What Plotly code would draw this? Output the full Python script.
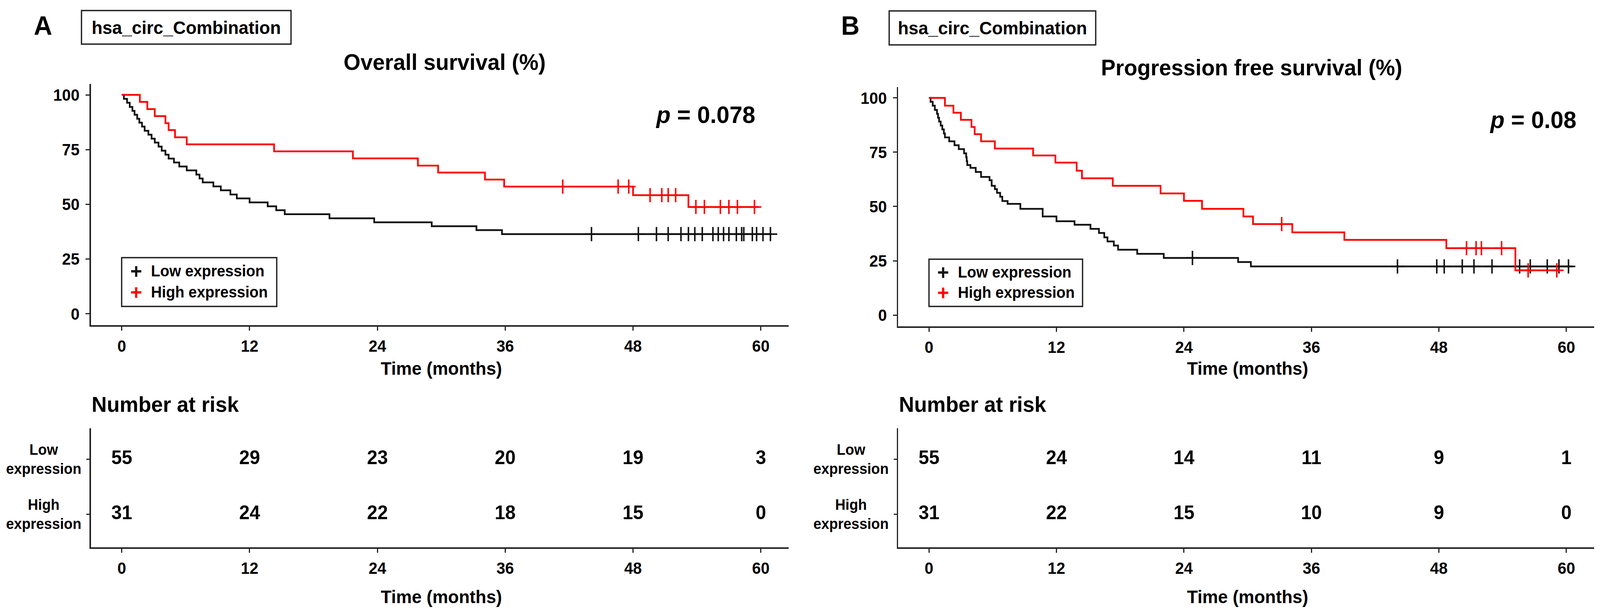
import plotly.graph_objects as go

W, H = 4261, 1578
FONT = "Liberation Sans, Arial, Helvetica, sans-serif"
RED = "#ff0000"
BLACK = "#111111"
AX = "#222222"

# ---------------- data ----------------
group_names = ["Low expression", "High expression"]
risk_times = [0, 12, 24, 36, 48, 60]
x_ticks = [0, 12, 24, 36, 48, 60]
y_ticks = [0, 25, 50, 75, 100]

# Panel A : overall survival
os_low_t = [0, 0.2, 0.5, 0.75, 1.0, 1.2, 1.45, 1.65, 1.9, 2.15, 2.5, 2.8, 3.1, 3.45, 3.75, 4.1,
            4.4, 4.9, 5.4, 6.1, 7.0, 7.3, 7.6, 8.6, 9.3, 10.2, 10.8, 12.0, 13.7, 14.5, 15.3,
            19.5, 23.7, 29.1, 33.3, 35.7]
os_low_s = [100, 98.2, 96.4, 94.5, 92.7, 90.9, 89.1, 87.3, 85.5, 83.6, 81.8, 80.0, 78.2, 76.4,
            74.5, 72.7, 70.9, 69.1, 67.3, 65.5, 63.6, 61.8, 60.0, 58.2, 56.4, 54.5, 52.7, 50.9,
            49.1, 47.3, 45.5, 43.6, 41.8, 40.0, 38.2, 36.4]
os_low_end = 61.0
os_low_cens = [44.1, 48.5, 50.2, 51.3, 52.5, 53.2, 53.8, 54.5, 55.5, 56.0, 56.5, 57.0, 57.7,
               58.2, 58.4, 59.2, 59.6, 60.2, 60.9]

os_high_t = [0, 1.7, 2.4, 3.1, 4.1, 4.4, 5.0, 6.1, 14.3, 21.7, 27.8, 29.7, 34.1, 35.9, 48.0, 53.2]
os_high_s = [100, 96.8, 93.5, 90.3, 87.1, 83.9, 80.6, 77.4, 74.2, 71.0, 67.7, 64.5, 61.3, 58.1,
             54.2, 48.8]
os_high_end = 59.8
os_high_cens = [41.4, 46.6, 47.6, 49.6, 50.7, 51.3, 52.0, 53.9, 54.7, 56.2, 57.0, 57.8, 59.4]

os_risk_low = [55, 29, 23, 20, 19, 3]
os_risk_high = [31, 24, 22, 18, 15, 0]
os_p = "0.078"

# Panel B : progression free survival
pfs_low_t = [0, 0.15, 0.35, 0.55, 0.75, 0.85, 0.95, 1.1, 1.25, 1.4, 1.5, 1.9, 2.4, 2.8, 3.3, 3.5,
             3.55, 3.6, 3.9, 4.4, 4.9, 5.7, 5.9, 6.2, 6.4, 6.7, 6.9, 7.4, 8.6, 10.7, 12.0, 13.7,
             15.2, 16.0, 16.5, 16.8, 17.4, 17.8, 19.6, 22.1, 29.1, 30.3]
pfs_low_s = [100, 98.2, 96.4, 94.5, 92.7, 90.9, 89.1, 87.3, 85.5, 83.6, 81.8, 80.0, 78.2, 76.4,
             74.5, 72.7, 70.9, 69.1, 67.8, 65.9, 63.6, 62.1, 59.5, 58.0, 56.3, 54.5, 52.5, 51.2,
             48.9, 45.4, 43.2, 41.6, 39.7, 37.8, 35.8, 33.9, 32.0, 30.1, 28.2, 26.3, 24.4, 22.4]
pfs_low_end = 60.6
pfs_low_cens = [24.8, 44.1, 47.8, 48.5, 50.2, 51.3, 53.0, 55.6, 56.6, 58.2, 59.3, 60.2]

pfs_high_t = [0, 1.5, 2.3, 3.0, 4.0, 4.3, 4.9, 6.2, 9.8, 11.9, 13.9, 14.4, 17.3, 21.8, 24.0,
              25.7, 29.6, 30.5, 34.2, 39.1, 48.7, 55.2]
pfs_high_s = [100, 96.4, 93.2, 89.9, 86.6, 83.3, 80.0, 76.7, 73.5, 70.2, 66.5, 63.0, 59.5, 56.0,
              52.6, 48.9, 45.4, 41.9, 38.1, 34.6, 30.8, 20.6]
pfs_high_end = 59.3
pfs_high_cens = [33.2, 50.6, 51.5, 52.0, 53.9, 56.4, 59.1]

pfs_risk_low = [55, 24, 14, 11, 9, 1]
pfs_risk_high = [31, 22, 15, 10, 9, 0]
pfs_p = "0.08"

# ---------------- helpers ----------------
def step_value(ts, ss, t):
    v = ss[0]
    for ti, si in zip(ts, ss):
        if ti <= t:
            v = si
    return v


def px(x):
    return x / W


def py(y):
    return 1 - y / H


fig = go.Figure()

panels = [
    dict(xa="x", ya="y", xr="x3", yr="y3",
         low=(os_low_t, os_low_s, os_low_end, os_low_cens),
         high=(os_high_t, os_high_s, os_high_end, os_high_cens),
         risk=(os_risk_low, os_risk_high)),
    dict(xa="x2", ya="y2", xr="x4", yr="y4",
         low=(pfs_low_t, pfs_low_s, pfs_low_end, pfs_low_cens),
         high=(pfs_high_t, pfs_high_s, pfs_high_end, pfs_high_cens),
         risk=(pfs_risk_low, pfs_risk_high)),
]

for p in panels:
    for (ts, ss, tend, cens), color, name in ((p["low"], BLACK, group_names[0]),
                                              (p["high"], RED, group_names[1])):
        fig.add_trace(go.Scatter(
            x=list(ts) + [tend], y=list(ss) + [ss[-1]], mode="lines", name=name,
            line=dict(color=color, width=4.5, shape="hv"),
            xaxis=p["xa"], yaxis=p["ya"], showlegend=False, hoverinfo="skip"))
        fig.add_trace(go.Scatter(
            x=cens, y=[step_value(ts, ss, c) for c in cens], mode="markers",
            marker=dict(symbol="cross-thin", size=26, color=color,
                        line=dict(color=color, width=4)),
            xaxis=p["xa"], yaxis=p["ya"], name=name + " (censored)", showlegend=False))
    rl, rh = p["risk"]
    for vals, yv in ((rl, 2), (rh, 1)):
        fig.add_trace(go.Scatter(
            x=risk_times, y=[yv] * len(risk_times), mode="text",
            text=[str(v) for v in vals],
            textfont=dict(family=FONT, size=50, color="black", weight="bold"),
            textposition="middle center",
            xaxis=p["xr"], yaxis=p["yr"], showlegend=False, hoverinfo="skip"))

tickfont = dict(family=FONT, size=42, color="black", weight="bold")
common_x = dict(range=[-2.9, 62.6], tickmode="array", tickvals=x_ticks,
                showline=True, linewidth=3.5, linecolor=AX, ticks="outside", ticklen=10,
                tickwidth=3, tickcolor=AX, tickfont=tickfont, showgrid=False,
                zeroline=False, fixedrange=True, ticklabelstandoff=4)
common_yk = dict(range=[-5.2, 105], tickmode="array", tickvals=y_ticks,
                 showline=True, linewidth=3.5, linecolor=AX, ticks="outside", ticklen=10,
                 tickwidth=3, tickcolor=AX, tickfont=tickfont, showgrid=False,
                 zeroline=False, fixedrange=True, ticklabelstandoff=8)
common_yr = dict(range=[0.404, 2.567], tickmode="array", tickvals=[1, 2],
                 showticklabels=False, showline=True, linewidth=3.5, linecolor=AX,
                 ticks="outside", ticklen=8, tickwidth=3, tickcolor=AX, showgrid=False,
                 zeroline=False, fixedrange=True)

layout = dict(
    width=W, height=H, margin=dict(l=0, r=0, t=0, b=0),
    paper_bgcolor="white", plot_bgcolor="white", showlegend=False,
    font=dict(family=FONT, color="black", weight="bold"),
    xaxis=dict(domain=[px(242), px(2100)], anchor="y", **common_x),
    yaxis=dict(domain=[py(833), py(215)], anchor="x", **common_yk),
    xaxis2=dict(domain=[px(2392), px(4245)], anchor="y2", **common_x),
    yaxis2=dict(domain=[py(836), py(223)], anchor="x2", **common_yk),
    xaxis3=dict(domain=[px(242), px(2100)], anchor="y3", **common_x),
    yaxis3=dict(domain=[py(1402), py(1097)], anchor="x3", **common_yr),
    xaxis4=dict(domain=[px(2392), px(4245)], anchor="y4", **common_x),
    yaxis4=dict(domain=[py(1402), py(1097)], anchor="x4", **common_yr),
)
fig.update_layout(**layout)

ann = []
shapes = []


def text(x, y, s, size, xanchor="center", color="black"):
    ann.append(dict(x=x, y=y, xref="paper", yref="paper", text=s, showarrow=False,
                    xanchor=xanchor, yanchor="middle", align="center",
                    font=dict(family=FONT, size=size, color=color, weight="bold")))


def rect(x0, y0, x1, y1):
    shapes.append(dict(type="rect", xref="paper", yref="paper", x0=px(x0), x1=px(x1),
                       y0=py(y1), y1=py(y0), line=dict(color=AX, width=3.5),
                       fillcolor="white", layer="below"))


panel_meta = [
    dict(letter="A", lx=114, ly=65, box=(217, 27, 775, 113), title="Overall survival (%)",
         tx=1184, ty=158, p=os_p, ppx=1879, ppy=293, nar_x=242, xr="x3", yr="y3",
         rowx=116, kmx="x", leg=(324, 660, 737, 785), sym_x=363, txt_x=400,
         rows=(694, 748)),
    dict(letter="B", lx=2264, ly=65, box=(2368, 28, 2918, 115),
         title="Progression free survival (%)", tx=3333, ty=172, p=pfs_p, ppx=4082,
         ppy=306, nar_x=2392, xr="x4", yr="y4", rowx=2266, kmx="x2",
         leg=(2474, 664, 2883, 785), sym_x=2512, txt_x=2549, rows=(697, 749)),
]

for m in panel_meta:
    text(px(m["lx"]), py(m["ly"]), m["letter"], 68)
    x0, y0, x1, y1 = m["box"]
    rect(x0, y0, x1, y1)
    text(px((x0 + x1) / 2), py((y0 + y1) / 2), "hsa_circ_Combination", 47)
    text(px(m["tx"]), py(m["ty"]), m["title"], 58)
    text(px(m["ppx"]), py(m["ppy"]), "<i>p</i> = " + m["p"], 62)
    text(px(m["nar_x"]), py(1035), "Number at risk", 56, xanchor="left")
    # legend box
    rect(*m["leg"])
    for yy, color, name in zip(m["rows"], (BLACK, RED), group_names):
        text(px(m["sym_x"]), py(yy), "+", 54, color=color)
        text(px(m["txt_x"]), py(yy), name, 40, xanchor="left")
    for xref, yc in ((m["kmx"], 943), (m["xr"], 1528)):
        ann.append(dict(x=30, xref=xref, y=py(yc), yref="paper", text="Time (months)",
                        showarrow=False, xanchor="center", yanchor="middle",
                        font=dict(family=FONT, size=47, color="black", weight="bold")))
    for yv, lab in ((2, "Low<br>expression"), (1, "High<br>expression")):
        ann.append(dict(x=px(m["rowx"]), xref="paper", y=yv, yref=m["yr"], text=lab,
                        showarrow=False, xanchor="center", yanchor="middle", align="center",
                        font=dict(family=FONT, size=38, color="black", weight="bold")))

fig.update_layout(annotations=ann, shapes=shapes)

# The browser viewport may differ from the requested window: stretch the
# fixed-size figure so that it exactly fills the real viewport.
fit_js = """
document.documentElement.style.margin='0';
document.documentElement.style.overflow='hidden';
document.body.style.margin='0';
document.body.style.overflow='hidden';
var gd=document.getElementById('{plot_id}');
var sx=window.innerWidth/%d, sy=window.innerHeight/%d;
gd.style.transformOrigin='0 0';
gd.style.transform='scale('+sx+','+sy+')';
""" % (W, H)

fig.write_html("out.html", post_script=fit_js, config={"displayModeBar": False})
